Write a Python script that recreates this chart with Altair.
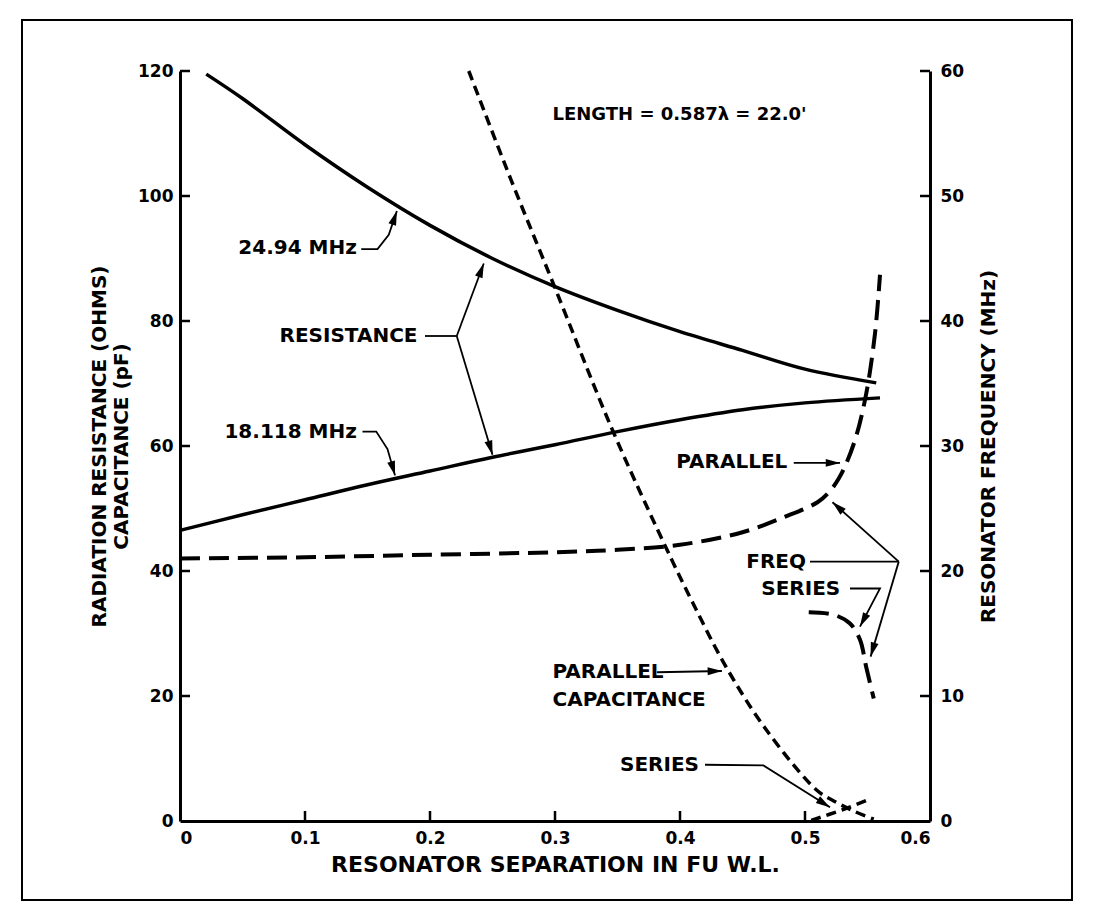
import math
import altair as alt
import pandas as pd

# ---------------- data ----------------
# Radiation resistance, 24.94 MHz (left axis, ohms)
res24_x = [0.021, 0.05, 0.1, 0.15, 0.2, 0.25, 0.3, 0.35, 0.4, 0.45, 0.5, 0.557]
res24_y = [119.5, 115.6, 108.2, 101.4, 95.3, 90.0, 85.5, 81.7, 78.3, 75.3, 72.3, 70.1]
# Radiation resistance, 18.118 MHz (left axis, ohms)
res18_x = [0.0, 0.05, 0.1, 0.15, 0.2, 0.25, 0.3, 0.35, 0.4, 0.45, 0.5, 0.56]
res18_y = [46.5, 49.0, 51.4, 53.8, 56.0, 58.2, 60.2, 62.3, 64.2, 65.8, 66.9, 67.7]
# Parallel capacitance (left axis, pF)
pcap_x = [0.231, 0.265, 0.3, 0.345, 0.387, 0.41, 0.437, 0.469, 0.509, 0.523, 0.54, 0.555]
pcap_y = [120.0, 102.5, 85.3, 63.0, 44.5, 35.0, 24.6, 14.6, 5.0, 3.2, 1.5, 0.3]
# Series capacitance (left axis, pF)
scap_x = [0.505, 0.53, 0.552]
scap_y = [0.1, 1.8, 3.5]
# Parallel resonator frequency (right axis, MHz)
pfreq_x = [0.0, 0.1, 0.2, 0.3, 0.35, 0.4, 0.45, 0.483, 0.51, 0.52, 0.527, 0.533, 0.541, 0.549, 0.556, 0.56]
pfreq_y = [21.0, 21.1, 21.3, 21.5, 21.7, 22.1, 23.1, 24.3, 25.5, 26.4, 27.4, 28.6, 30.8, 34.2, 39.0, 43.7]
# Series resonator frequency (right axis, MHz)
sfreq_x = [0.503, 0.523, 0.536, 0.544, 0.549, 0.555]
sfreq_y = [16.7, 16.5, 15.8, 14.5, 12.3, 9.8]

# tick values
x_ticks = [0.0, 0.1, 0.2, 0.3, 0.4, 0.5, 0.6]
left_ticks = [0, 20, 40, 60, 80, 100, 120]
right_ticks = [0, 10, 20, 30, 40, 50, 60]

# annotation labels (positions in x / left-axis units)
lab_left_text = ["PARALLEL", "FREQ", "SERIES",
                 "PARALLEL", "CAPACITANCE", "SERIES"]
lab_left_x = [0.397, 0.453, 0.465, 0.298, 0.298, 0.352]
lab_left_y = [57.5, 41.5, 37.2, 23.9, 19.4, 9.0]
lab_right_text = ["24.94 MHz", "RESISTANCE", "18.118 MHz"]
lab_right_x = [0.1415, 0.19, 0.1415]
lab_right_y = [91.7, 77.6, 62.3]
note_text = ["LENGTH = 0.587λ = 22.0'"]
note_x = [0.298]
note_y = [113.0]

# leader lines (id, x, y) in order; those ending in an arrow are listed in arrows
lead_id = ["a", "a", "a", "a",
           "b", "b", "c", "c", "d", "d",
           "e", "e", "e", "e",
           "f", "f", "g", "g", "h", "h", "i", "i",
           "j", "j", "j", "k", "k", "l", "l", "l"]
lead_x = [0.145, 0.158, 0.167, 0.1735,
          0.196, 0.2214, 0.2214, 0.243, 0.2214, 0.25,
          0.146, 0.157, 0.166, 0.172,
          0.491, 0.528, 0.504, 0.575, 0.575, 0.522, 0.575, 0.5525,
          0.536, 0.56, 0.544, 0.3815, 0.4335, 0.42, 0.4667, 0.52]
lead_y = [91.5, 91.5, 93.8, 97.6,
          77.6, 77.6, 77.6, 89.2, 77.6, 58.6,
          62.3, 62.3, 59.5, 55.3,
          57.3, 57.3, 41.5, 41.5, 41.5, 51.0, 41.5, 26.3,
          37.2, 37.2, 31.1, 23.8, 24.0, 9.0, 8.9, 2.2]
arrow_ids = ["a", "c", "d", "e", "f", "h", "i", "j", "k", "l"]

# ---------------- geometry / style ----------------
W, H = 750, 750
XMAX, YLMAX, YRMAX = 0.6, 120.0, 60.0
FONT = "DejaVu Sans"

xs = alt.Scale(domain=[0, XMAX], nice=False, zero=False)
ysl = alt.Scale(domain=[0, YLMAX], nice=False, zero=False)
ysr = alt.Scale(domain=[0, YRMAX], nice=False, zero=False)

X_AX = alt.Axis(values=x_ticks, format=".1~f", ticks=False, grid=False,
                domainColor="black", domainWidth=3, labelFont=FONT,
                labelFontSize=17, labelFontWeight="bold", labelColor="black",
                labelPadding=9, title="RESONATOR SEPARATION IN FU W.L.",
                titleFont=FONT, titleFontSize=22, titleFontWeight="bold",
                titleColor="black", titlePadding=8)
YL_AX = alt.Axis(orient="left", values=left_ticks, ticks=False, grid=False,
                 domainColor="black", domainWidth=3, labelFont=FONT,
                 labelFontSize=17, labelFontWeight="bold", labelColor="black",
                 labelPadding=7,
                 title=["RADIATION RESISTANCE (OHMS)", "CAPACITANCE (pF)"],
                 titleFont=FONT, titleFontSize=20, titleFontWeight="bold",
                 titleColor="black", titlePadding=6)
YR_AX = alt.Axis(orient="right", values=right_ticks, ticks=False, grid=False,
                 domainColor="black", domainWidth=3, labelFont=FONT,
                 labelFontSize=17, labelFontWeight="bold", labelColor="black",
                 labelPadding=10, title="RESONATOR FREQUENCY (MHz)",
                 titleAngle=270, titleBaseline="top", titleFont=FONT,
                 titleFontSize=20, titleFontWeight="bold", titleColor="black",
                 titlePadding=15)


def X():
    return alt.X("x:Q", scale=xs, axis=X_AX)


def curve(xv, yv, scale, dash, width, axis=None):
    df = pd.DataFrame({"x": xv, "y": yv})
    m = alt.Chart(df).mark_line(color="black", strokeWidth=width,
                                interpolate="catmull-rom", strokeCap="butt",
                                **({"strokeDash": dash} if dash else {}))
    return m.encode(x=X(), y=alt.Y("y:Q", scale=scale, axis=axis))


layers = []
layers.append(curve(res24_x, res24_y, ysl, None, 3.5, YL_AX))
layers.append(curve(res18_x, res18_y, ysl, None, 3.5))
layers.append(curve(pcap_x, pcap_y, ysl, [10, 6], 3.5))
layers.append(curve(scap_x, scap_y, ysl, [10, 6], 3.5))
layers.append(curve(pfreq_x, pfreq_y, ysr, [20, 9], 4, YR_AX))
layers.append(curve(sfreq_x, sfreq_y, ysr, [20, 9], 4))

# inward axis ticks
lt = pd.DataFrame({"y": left_ticks[1:]})
layers.append(alt.Chart(lt).mark_rule(color="black", strokeWidth=2.5).encode(
    y=alt.Y("y:Q", scale=ysl, axis=None), x=alt.value(0), x2=alt.value(10)))
rt = pd.DataFrame({"y": right_ticks[1:]})
layers.append(alt.Chart(rt).mark_rule(color="black", strokeWidth=2.5).encode(
    y=alt.Y("y:Q", scale=ysr, axis=None), x=alt.value(W - 10), x2=alt.value(W)))
bt = pd.DataFrame({"x": x_ticks[1:-1]})
layers.append(alt.Chart(bt).mark_rule(color="black", strokeWidth=2.5).encode(
    x=X(), y=alt.value(H - 10), y2=alt.value(H)))

# leader lines
ld = pd.DataFrame({"id": lead_id, "x": lead_x, "y": lead_y,
                   "o": list(range(len(lead_id)))})
layers.append(alt.Chart(ld).mark_line(color="black", strokeWidth=1.8,
                                      interpolate="linear").encode(
    x=X(), y=alt.Y("y:Q", scale=ysl, axis=None), detail="id:N", order="o:Q"))

# arrowheads: direction taken from the last leader segment (pixel space)
ax_, ay_, aa_ = [], [], []
for aid in arrow_ids:
    pts = [(x, y) for i, x, y in zip(lead_id, lead_x, lead_y) if i == aid]
    (x0, y0), (x1, y1) = pts[-2], pts[-1]
    dxp = (x1 - x0) / XMAX * W
    dyp = -(y1 - y0) / YLMAX * H
    L = math.hypot(dxp, dyp)
    ang = math.degrees(math.atan2(dxp, -dyp)) % 360
    back = 7.0
    cx = x1 - (dxp / L * back) * XMAX / W
    cy = y1 + (dyp / L * back) * YLMAX / H
    ax_.append(cx)
    ay_.append(cy)
    aa_.append(ang)
ah = pd.DataFrame({"x": ax_, "y": ay_, "a": aa_})
layers.append(alt.Chart(ah).mark_point(
    shape="M0,-1L0.55,1L-0.55,1Z", filled=True, color="black", opacity=1,
    size=210, strokeWidth=0).encode(
    x=X(), y=alt.Y("y:Q", scale=ysl, axis=None),
    angle=alt.Angle("a:Q", scale=None)))

# labels
tl = pd.DataFrame({"x": lab_left_x, "y": lab_left_y, "t": lab_left_text})
layers.append(alt.Chart(tl).mark_text(
    align="left", baseline="middle", font=FONT, fontSize=20, fontWeight="bold",
    color="black").encode(x=X(), y=alt.Y("y:Q", scale=ysl, axis=None),
                          text="t:N"))
tr = pd.DataFrame({"x": lab_right_x, "y": lab_right_y, "t": lab_right_text})
layers.append(alt.Chart(tr).mark_text(
    align="right", baseline="middle", font=FONT, fontSize=20, fontWeight="bold",
    color="black").encode(x=X(), y=alt.Y("y:Q", scale=ysl, axis=None),
                          text="t:N"))
tn = pd.DataFrame({"x": note_x, "y": note_y, "t": note_text})
layers.append(alt.Chart(tn).mark_text(
    align="left", baseline="middle", font=FONT, fontSize=18, fontWeight="bold",
    color="black").encode(x=X(), y=alt.Y("y:Q", scale=ysl, axis=None),
                          text="t:N"))

# outer frame of the figure
frame = pd.DataFrame({"k": [0]})
layers.append(alt.Chart(frame).mark_rect(
    filled=False, stroke="black", strokeWidth=2).encode(
    x=alt.value(-158), x2=alt.value(892), y=alt.value(-51), y2=alt.value(829)))

chart = alt.layer(*layers).resolve_scale(y="independent").properties(
    width=W, height=H,
    autosize=alt.AutoSizeParams(type="none"),
    padding={"left": 172, "top": 63, "right": 156, "bottom": 91},
    background="white",
).configure_view(stroke=None)

chart.save("out.html", embed_options={"renderer": "svg", "actions": False})
